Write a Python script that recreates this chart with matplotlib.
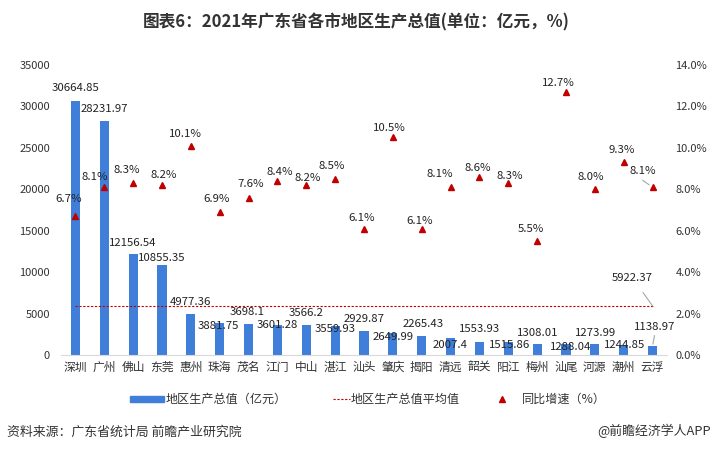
import matplotlib
matplotlib.use("Agg")
import matplotlib.pyplot as plt
from matplotlib.lines import Line2D
from matplotlib.patches import Rectangle

plt.rcParams['font.family'] = ['Noto Sans CJK SC', 'DejaVu Sans']

cities = ['深圳', '广州', '佛山', '东莞', '惠州', '珠海', '茂名', '江门', '中山', '湛江', '汕头',
          '肇庆', '揭阳', '清远', '韶关', '阳江', '梅州', '汕尾', '河源', '潮州', '云浮']
gdp = [30664.85, 28231.97, 12156.54, 10855.35, 4977.36, 3881.75, 3698.1, 3601.28, 3566.2,
       3559.93, 2929.87, 2649.99, 2265.43, 2007.4, 1553.93, 1515.86, 1308.01, 1288.04,
       1273.99, 1244.85, 1138.97]
growth = [6.7, 8.1, 8.3, 8.2, 10.1, 6.9, 7.6, 8.4, 8.2, 8.5, 6.1, 10.5, 6.1, 8.1, 8.6, 8.3,
          5.5, 12.7, 8.0, 9.3, 8.1]
gdp_avg = 5922.37

# label offsets in pixels (dx, dy) from the mark, hand placed like the original
gdp_off = [(0, 13), (0, 12), (0, 11), (0, 7), (0, 12), (-1, -3), (-1, 12), (0, 0), (0, 12),
           (0, -3), (0, 12), (0, -4), (1, 12), (0, -7), (0, 13), (1, -3), (1, 11), (5, -3),
           (1, 11), (1, 0), (2, 19)]
gr_off = [(-7, 17), (-9, 10), (-6, 13), (2, 10), (-5, 12), (-3, 13), (2, 14), (2, 9), (1, 7),
          (-3, 13), (-2, 11), (-3, 9), (-2, 8), (-11, 13), (-2, 9), (2, 7), (-6, 12), (-8, 9),
          (-4, 12), (-2, 12), (-10, 16)]

blue = '#3F7FDA'
red = '#C00000'
W, H = 713, 451


def fx(px):
    return px / W


def fy(py):
    return 1 - py / H


fig = plt.figure(figsize=(W / 100, H / 100), dpi=100)
ax = fig.add_axes([fx(61), fy(355), fx(667) - fx(61), fy(65) - fy(355)])
x = list(range(len(cities)))
ax.bar(x, gdp, width=0.32, color=blue, zorder=2)
ax.plot([0, len(cities) - 1], [gdp_avg, gdp_avg], color=red, lw=0.8, ls=(0, (2, 1.5)), zorder=3)
ax.set_xlim(-0.5, len(cities) - 0.5)
ax.set_ylim(0, 35000)
ax.set_yticks(range(0, 35001, 5000))
ax.set_xticks(x)
ax.set_xticklabels(cities)
ax.tick_params(axis='both', length=0, colors='#333333')
ax.tick_params(axis='x', pad=4, labelsize=8.5)
ax.tick_params(axis='y', pad=8, labelsize=8)
for s in ['top', 'right', 'left']:
    ax.spines[s].set_visible(False)
ax.spines['bottom'].set_color('#d9d9d9')

for i, v in enumerate(gdp):
    ax.annotate(str(v), (i, v), xytext=gdp_off[i], textcoords='offset pixels',
                ha='center', va='center', fontsize=8.2, color='#222222', zorder=5)
ax.annotate('%.2f' % gdp_avg, (len(cities) - 1, gdp_avg), xytext=(-20, 28),
            textcoords='offset pixels', ha='center', va='center', fontsize=8.2, color='#222222',
            arrowprops=dict(arrowstyle='-', color='#a6a6a6', lw=0.8, shrinkA=6, shrinkB=0))
ax.annotate('', (len(cities) - 1, gdp[-1]), xytext=(2, 10), textcoords='offset pixels',
            arrowprops=dict(arrowstyle='-', color='#a6a6a6', lw=0.8, shrinkA=0, shrinkB=1))

ax2 = ax.twinx()
ax2.plot(x, growth, ls='none', marker='^', ms=4.5, color=red, zorder=4)
ax2.set_ylim(0, 14)
ax2.set_yticks(range(0, 15, 2))
ax2.set_yticklabels(['%.1f%%' % t for t in range(0, 15, 2)])
ax2.tick_params(axis='y', length=0, labelsize=8, colors='#333333', pad=6)
for s in ['top', 'right', 'left', 'bottom']:
    ax2.spines[s].set_visible(False)
for i, g in enumerate(growth):
    ax2.annotate('%.1f%%' % g, (i, g), xytext=gr_off[i], textcoords='offset pixels',
                 ha='center', va='center', fontsize=8.2, color='#222222')
ax2.annotate('', (len(cities) - 1, growth[-1]), xytext=(-10, 7), textcoords='offset pixels',
             arrowprops=dict(arrowstyle='-', color='#a6a6a6', lw=0.8, shrinkA=0, shrinkB=3))

fig.text(0.5, fy(22), '图表6：2021年广东省各市地区生产总值(单位：亿元，%)', ha='center', va='center',
         fontsize=12, fontweight='bold', color='#333333')

# legend drawn by hand, the handles differ in length
ly = fy(399)
fig.patches.append(Rectangle((fx(130), fy(402)), fx(164) - fx(130), fy(396) - fy(402),
                             color=blue, transform=fig.transFigure))
fig.text(fx(166), ly, '地区生产总值（亿元）', ha='left', va='center', fontsize=8.7, color='#333333')
fig.lines.append(Line2D([fx(333), fx(350)], [ly, ly], color=red, lw=0.8, ls=(0, (2, 1.5)),
                        transform=fig.transFigure))
fig.text(fx(351), ly, '地区生产总值平均值', ha='left', va='center', fontsize=8.7, color='#333333')
fig.lines.append(Line2D([fx(502)], [ly], ls='none', marker='^', ms=4.5, color=red,
                        transform=fig.transFigure))
fig.text(fx(522), ly, '同比增速（%）', ha='left', va='center', fontsize=8.7, color='#333333')

fig.text(fx(7), fy(432), '资料来源：广东省统计局 前瞻产业研究院', ha='left', va='center', fontsize=9.3,
         color='#333333')
fig.text(fx(711), fy(431), '@前瞻经济学人APP', ha='right', va='center', fontsize=9.3, color='#333333')

fig.savefig('out.png', dpi=100)
